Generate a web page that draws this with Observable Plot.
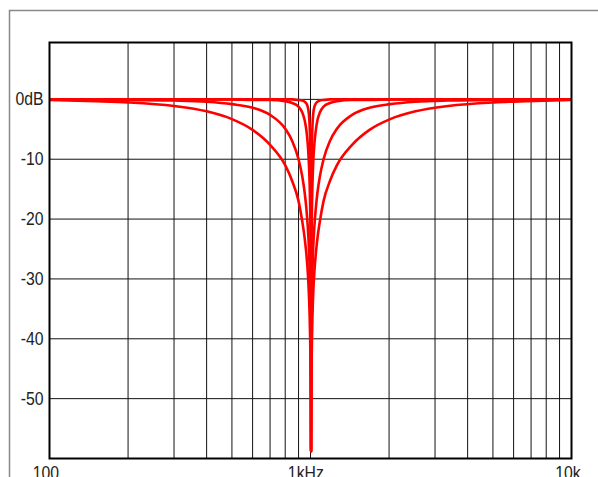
<!DOCTYPE html>
<html><head><meta charset="utf-8">
<script src="https://cdn.jsdelivr.net/npm/d3@7"></script>
<script src="https://cdn.jsdelivr.net/npm/@observablehq/plot@0.6"></script>
<style>
html,body{margin:0;padding:0;background:#fff;}
#chart{width:598px;height:477px;overflow:hidden;}
</style></head><body><div id="chart"></div>
<script>
// Frequencies (Hz) at which the curves were read
const freqs = [100,150,200,300,400,500,600,700,800,850,900,930,950,965,975,985,992,997,999,1002,1004,
  1005,
  1006,1008,1011,1013,1018,1025,1036,1047,1063,1086,1122,1188,1263,1443,1683,2020,2525,3367,5050,6733,10000];

// Gain (dB) of the four notch curves, widest to narrowest
const curveA = [-0.1,-0.3,-0.5,-1.1,-2.0,-3.3,-5.1,-7.6,-11.0,-13.6,-17.0,-20.4,-23.2,-26.0,-28.5,-32.1,-35.9,-40.1,-42.6,-48.6,-58.0,
  -58.8,
  -58.0,-48.6,-42.6,-40.1,-35.9,-32.1,-28.5,-26.0,-23.2,-20.4,-17.0,-13.6,-11.0,-7.6,-5.1,-3.3,-2.0,-1.1,-0.5,-0.3,-0.1];
const curveB = [0,0,-0.1,-0.2,-0.4,-0.8,-1.4,-2.6,-4.9,-6.9,-10.0,-12.9,-15.6,-18.4,-20.9,-24.4,-28.2,-32.4,-34.9,-40.9,-50.5,
  -58.8,
  -50.5,-40.9,-34.9,-32.4,-28.2,-24.4,-20.9,-18.4,-15.6,-12.9,-10.0,-6.9,-4.9,-2.6,-1.4,-0.8,-0.4,-0.2,-0.1,0,0];
const curveC = [0,0,0,0,0,0,-0.1,-0.1,-0.3,-0.6,-1.2,-2.2,-3.5,-5.3,-7.2,-10.3,-13.8,-17.9,-20.4,-26.4,-36.0,
  -58.8,
  -36.0,-26.4,-20.4,-17.9,-13.8,-10.3,-7.2,-5.3,-3.5,-2.2,-1.2,-0.6,-0.3,-0.1,-0.1,0,0,0,0,0,0];
const curveD = [0,0,0,0,0,0,0,0,0,0,-0.1,-0.2,-0.4,-0.7,-1.2,-2.3,-4.2,-7.3,-9.4,-15.1,-24.5,
  -58.8,
  -24.5,-15.1,-9.4,-7.3,-4.2,-2.3,-1.2,-0.7,-0.4,-0.2,-0.1,0,0,0,0,0,0,0,0,0,0];

const seriesNames = ["A","B","C","D"];
const seriesValues = [curveA, curveB, curveC, curveD];

const xTicks = [100, 1000, 10000];
const xTickLabels = ["100", "1kHz", "10k"];
const yTicks = [0, -10, -20, -30, -40, -50];
const yTickLabels = ["0dB", "-10", "-20", "-30", "-40", "-50"];
const gridFreqs = [200,300,400,500,600,700,800,900,1000,2000,3000,4000,5000,6000,7000,8000,9000];

const data = seriesNames.flatMap((name, s) => freqs.map((f, i) => ({name, f, db: seriesValues[s][i]})));

const plot = Plot.plot({
  width: 598, height: 477,
  marginLeft: 49, marginRight: 27, marginTop: 42, marginBottom: 19,
  style: {fontFamily: "'Liberation Sans',Arial,sans-serif", fontSize: "19px", color: "#222", background: "white", overflow: "visible"},
  x: {type: "log", domain: [100, 10000]},
  y: {domain: [-60, 9.5]},
  marks: [
    Plot.ruleX(gridFreqs, {stroke: "#111", strokeWidth: 1}),
    Plot.ruleY(yTicks, {stroke: "#111", strokeWidth: 1}),
    Plot.line(data, {x: "f", y: "db", z: "name", stroke: "#ff0000", strokeWidth: 2.6, curve: "monotone-x", clip: true}),
    Plot.frame({stroke: "#000", strokeWidth: 2}),
    Plot.axisX(xTicks, {tickSize: 0, tickPadding: 7, label: null, tickFormat: d => xTickLabels[xTicks.indexOf(d)]}),
    Plot.axisY(yTicks, {tickSize: 0, tickPadding: 6, label: null, tickFormat: d => yTickLabels[yTicks.indexOf(d)]})
  ]
});

// outer gray border of the figure panel
d3.select(plot).append("path")
  .attr("d", "M9.5,477V10.5H598")
  .attr("fill", "none").attr("stroke", "#888").attr("stroke-width", 1.5);

document.getElementById("chart").appendChild(plot);

// condense the labels horizontally (narrow face of the reference)
const squeeze = 0.83;
d3.select(plot).selectAll("g[aria-label='x-axis tick label'] text, g[aria-label='y-axis tick label'] text").each(function() {
  const len = this.getComputedTextLength();
  const isX = this.parentNode.getAttribute("aria-label") === "x-axis tick label";
  this.setAttribute("textLength", (len * squeeze).toFixed(1));
  this.setAttribute("lengthAdjust", "spacingAndGlyphs");
  if (isX) {
    const oldDx = parseFloat(this.getAttribute("dx")) || 0;
    this.setAttribute("dx", (oldDx - len * (1 - squeeze) / 2 - 1).toFixed(2));
  }
});
</script>
</body></html>
